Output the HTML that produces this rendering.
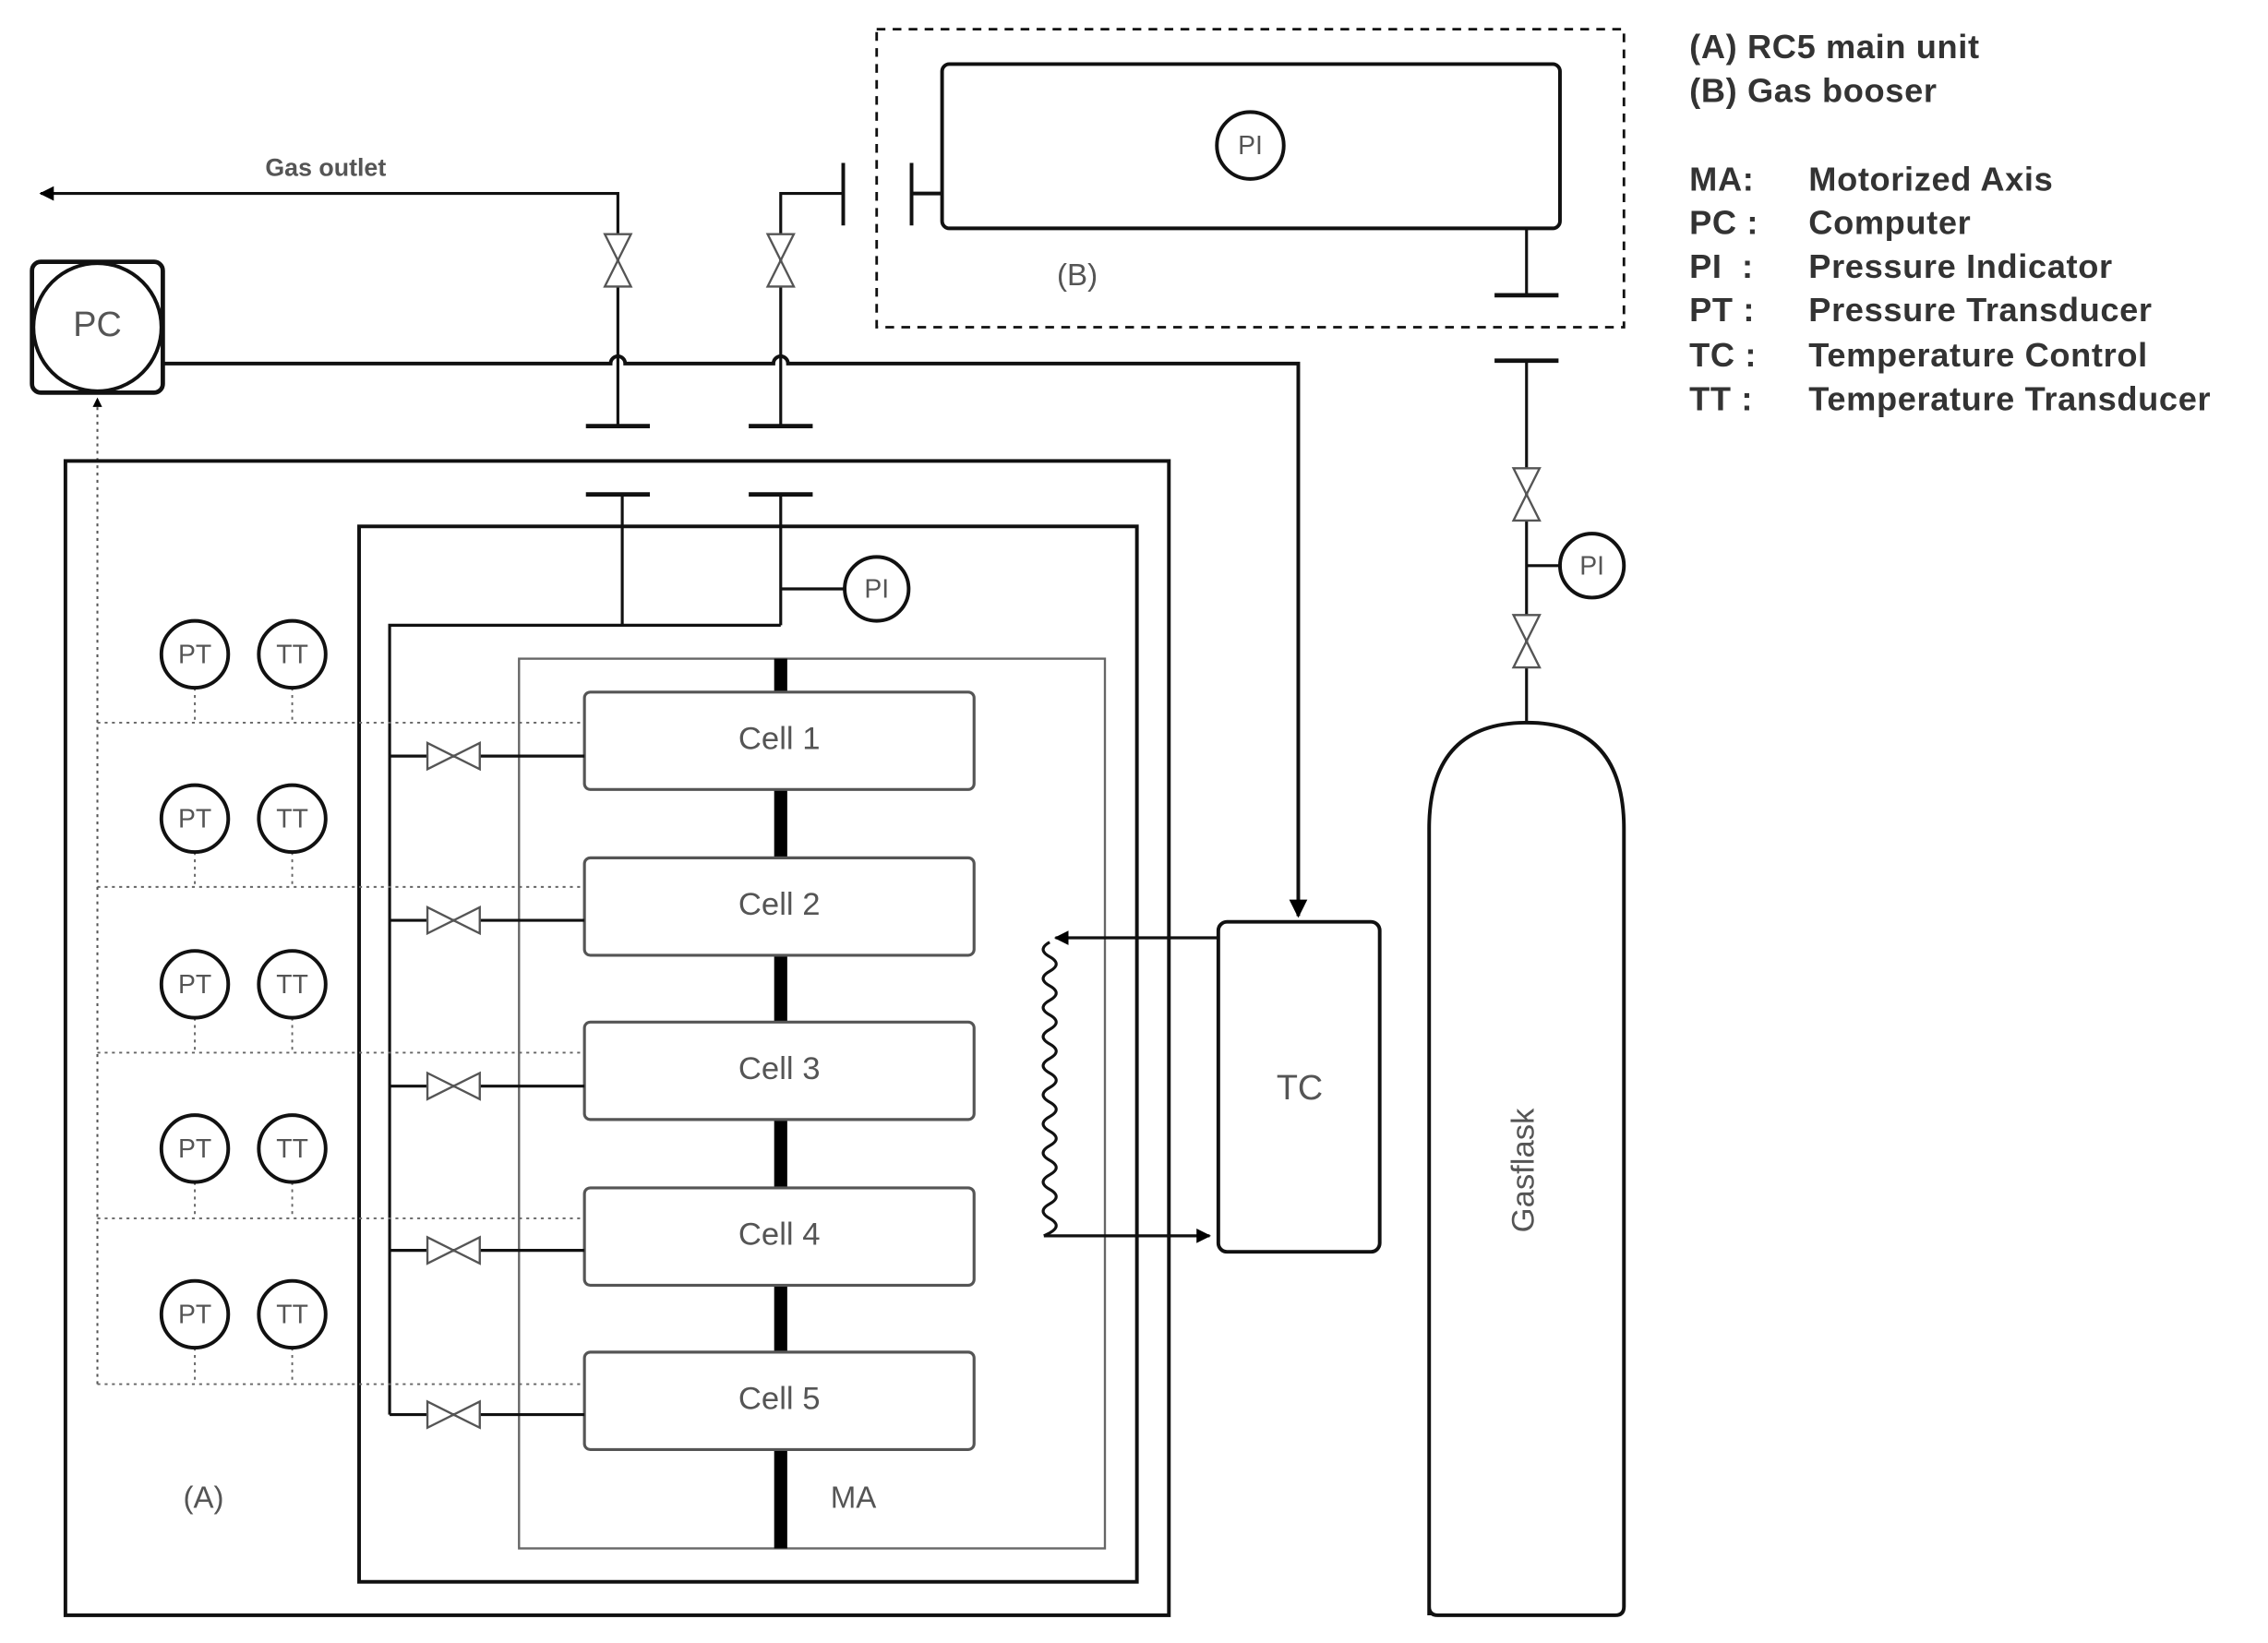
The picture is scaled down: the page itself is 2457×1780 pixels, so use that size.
<!DOCTYPE html>
<html><head><meta charset="utf-8"><style>html,body{margin:0;padding:0;background:#fff}svg{display:block}</style></head><body>
<svg width="2457" height="1780" viewBox="0 0 1560 1130" xmlns="http://www.w3.org/2000/svg" font-family="Liberation Sans, sans-serif">
<defs>
<marker id="ar" viewBox="0 0 10 10" refX="9" refY="5" markerWidth="5" markerHeight="5" orient="auto-start-reverse"><path d="M0,0 L10,5 L0,10 z" fill="#000"/></marker>
<g id="vv"><path d="M-9,-18 L9,-18 L-9,18 L9,18 Z" fill="#fff" stroke="#555" stroke-width="1.5"/></g>
<g id="hv"><path d="M-18,-9 L-18,9 L18,-9 L18,9 Z" fill="#fff" stroke="#555" stroke-width="1.5"/></g>
</defs>
<g fill="none" stroke="#111" stroke-width="2">
<path d="M425,293 V133 H28" marker-end="url(#ar)"/>
<path d="M537,293 V133 H580"/>
<path d="M580,112 V155 M627,112 V155 M627,133 H648" stroke-width="2.5"/>
<path d="M403,293 H447 M515,293 H559 M403,340 H447 M515,340 H559" stroke-width="3"/>
<rect x="22" y="180" width="90" height="90" rx="6" stroke-width="3"/>
<ellipse cx="67" cy="225" rx="44" ry="44" stroke-width="2.5"/>
<path d="M112,250 H420 a5,5 0 0 1 10,0 H532 a5,5 0 0 1 10,0 H893 V630" stroke-width="2.5" marker-end="url(#ar)"/>
<path d="M67,952 V274" stroke="#555" stroke-width="1.3" stroke-dasharray="2,3" marker-end="url(#ar)"/>
<rect x="45" y="317" width="759" height="794" stroke-width="2.5"/>
<rect x="247" y="362" width="535" height="726" stroke-width="2.5"/>
<rect x="357" y="453" width="403" height="612" stroke="#666" stroke-width="1.5"/>
<path d="M428,340 V430 M537,340 V430 M537,405 H581 M268,973 V430 H537"/>
<line x1="537" y1="453" x2="537" y2="1065" stroke="#000" stroke-width="9"/>
<rect x="838" y="634" width="111" height="227" rx="6" stroke-width="2.5"/>
<path d="M838,645 H726" marker-end="url(#ar)"/>
<path d="M718,850 H832" marker-end="url(#ar)"/>
<path d="M722,648 q-9,5 0,10 q9,5 0,10 q-9,5 0,10 q9,5 0,10 q-9,5 0,10 q9,5 0,10 q-9,5 0,10 q9,5 0,10 q-9,5 0,10 q9,5 0,10 q-9,5 0,10 q9,5 0,10 q-9,5 0,10 q9,5 0,10 q-9,5 0,10 q9,5 0,10 q-9,5 0,10 q9,5 0,10 q-9,5 0,10 q9,5 0,10 L718,850" stroke-width="2"/>
<path d="M983,1111 V570 Q983,497 1050,497 Q1117,497 1117,570 V1105 q0,6 -6,6 H989 q-6,0 -6,-6" stroke-width="2.5"/>
<path d="M1050,497 V248 M1050,389 H1073 M1050,157 V203"/>
<path d="M1028,248 H1072 M1028,203 H1072" stroke-width="3"/>
<rect x="603" y="20" width="514" height="205" stroke-dasharray="6,5" stroke-width="1.8"/>
<rect x="648" y="44" width="425" height="113" rx="5" stroke-width="2.5"/>
</g>
<use href="#vv" x="425" y="179"/><use href="#vv" x="537" y="179"/>
<use href="#vv" x="1050" y="340"/><use href="#vv" x="1050" y="441"/>
<g fill="#fff" stroke="#555" stroke-width="2">
<rect x="402" y="476" width="268" height="67" rx="4"/>
<rect x="402" y="590" width="268" height="67" rx="4"/>
<rect x="402" y="703" width="268" height="67" rx="4"/>
<rect x="402" y="817" width="268" height="67" rx="4"/>
<rect x="402" y="930" width="268" height="67" rx="4"/>
</g>
<g stroke="#111" stroke-width="2">
<path d="M268,520 H402 M268,633 H402 M268,747 H402 M268,860 H402 M268,973 H402"/>
</g>
<use href="#hv" x="312" y="520"/><use href="#hv" x="312" y="633"/><use href="#hv" x="312" y="747"/><use href="#hv" x="312" y="860"/><use href="#hv" x="312" y="973"/>
<g stroke="#666" stroke-width="1.2" stroke-dasharray="2,3" fill="none">
<path d="M67,497 H402 M67,610 H402 M67,724 H402 M67,838 H402 M67,952 H402"/>
<path d="M134,473 V497 M201,473 V497 M134,586 V610 M201,586 V610 M134,700 V724 M201,700 V724 M134,813 V838 M201,813 V838 M134,927 V952 M201,927 V952"/>
</g>
<g fill="#fff" stroke="#111" stroke-width="2.5">
<circle cx="134" cy="450" r="23"/><circle cx="201" cy="450" r="23"/>
<circle cx="134" cy="563" r="23"/><circle cx="201" cy="563" r="23"/>
<circle cx="134" cy="677" r="23"/><circle cx="201" cy="677" r="23"/>
<circle cx="134" cy="790" r="23"/><circle cx="201" cy="790" r="23"/>
<circle cx="134" cy="904" r="23"/><circle cx="201" cy="904" r="23"/>
<circle cx="603" cy="405" r="22"/><circle cx="1095" cy="389" r="22"/><circle cx="860" cy="100" r="23"/>
</g>
<g fill="#555" font-size="18" text-anchor="middle">
<text x="134" y="456">PT</text><text x="201" y="456">TT</text>
<text x="134" y="569">PT</text><text x="201" y="569">TT</text>
<text x="134" y="683">PT</text><text x="201" y="683">TT</text>
<text x="134" y="796">PT</text><text x="201" y="796">TT</text>
<text x="134" y="910">PT</text><text x="201" y="910">TT</text>
<text x="603" y="411">PI</text><text x="1095" y="395">PI</text><text x="860" y="106">PI</text>
<text x="67" y="231" font-size="24">PC</text>
<text x="894" y="756" font-size="24">TC</text>
<g font-size="22"><text x="536" y="515">Cell 1</text><text x="536" y="629">Cell 2</text><text x="536" y="742">Cell 3</text><text x="536" y="856">Cell 4</text><text x="536" y="969">Cell 5</text></g>
<text x="140" y="1037" font-size="21">(A)</text><text x="587" y="1037" font-size="21">MA</text>
<text x="741" y="196" font-size="21">(B)</text>
<text transform="translate(1055,805) rotate(-90)" font-size="22">Gasflask</text>
<text x="224" y="121" font-size="17" font-weight="bold">Gas outlet</text>
</g>
<g fill="#333" font-size="23" font-weight="bold" letter-spacing="0.4">
<text x="1162" y="40">(A) RC5 main unit</text>
<text x="1162" y="70">(B) Gas booser</text>
<text x="1162" y="131">MA:</text><text x="1244" y="131">Motorized Axis</text>
<text x="1162" y="161">PC :</text><text x="1244" y="161">Computer</text>
<text x="1162" y="191">PI&#160;&#160;:</text><text x="1244" y="191">Pressure Indicator</text>
<text x="1162" y="221">PT :</text><text x="1244" y="221">Pressure Transducer</text>
<text x="1162" y="252">TC :</text><text x="1244" y="252">Temperature Control</text>
<text x="1162" y="282">TT :</text><text x="1244" y="282">Temperature Transducer</text>
</g>
</svg>
</body></html>
